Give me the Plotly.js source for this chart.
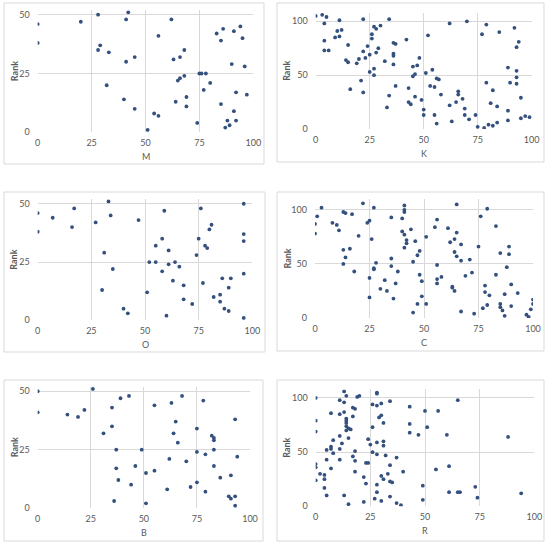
<!DOCTYPE html>
<html>
<head>
<meta charset="utf-8">
<script src="https://cdn.plot.ly/plotly-3.0.1.min.js"></script>
<style>
  html, body { margin: 0; padding: 0; background: #fff; }
  #plot { width: 550px; height: 546px; }
</style>
</head>
<body>
<div id="plot"></div>
<script>
// score (x) and rank (y) for each of the six panels
const mScore = [0, 0, 20, 28, 42, 41, 29, 28, 33, 41, 45, 32, 40, 45, 51, 54, 56, 56, 62, 63, 66, 68, 65, 66, 68, 64, 69, 69, 74, 75, 76, 78, 77, 80, 83, 86, 85, 91, 94, 95, 90, 96, 85, 92, 97, 91, 88, 92, 89, 87];
const mRank  = [46, 38, 47, 50, 51, 48, 37, 35, 34, 30, 32, 20, 14, 10, 1, 8, 7, 41, 48, 31, 32, 35, 22, 23, 24, 13, 15, 11, 4, 25, 25, 25, 18, 21, 42, 44, 39, 43, 45, 40, 29, 28, 12, 17, 16, 9, 5, 5, 3, 2];

const kScore = [0, 3, 5, 4, 4, 4, 6, 9, 10, 11, 11, 12, 15, 14, 15, 16, 19, 20, 21, 22, 22, 22, 23, 24, 25, 25, 26, 26, 27, 28, 30, 29, 28, 27, 27, 32, 34, 36, 37, 36, 36, 36, 37, 34, 33, 42, 43, 43, 44, 46, 45, 46, 45, 47, 48, 49, 50, 50, 51, 52, 53, 54, 55, 55, 56, 56, 57, 58, 62, 62, 63, 65, 66, 66, 68, 69, 69, 71, 70, 74, 75, 77, 79, 79, 78, 80, 81, 82, 82, 84, 84, 85, 89, 90, 89, 89, 92, 93, 94, 93, 93, 93, 95, 95, 97, 99];
const kRank  = [105, 106, 104, 98, 82, 73, 73, 85, 91, 101, 86, 92, 78, 64, 62, 37, 61, 65, 45, 34, 102, 72, 66, 77, 69, 53, 88, 84, 95, 93, 96, 75, 71, 56, 50, 63, 102, 80, 79, 70, 68, 60, 40, 31, 20, 83, 38, 25, 23, 30, 49, 51, 58, 59, 66, 27, 18, 13, 52, 87, 40, 55, 39, 13, 5, 47, 46, 32, 98, 22, 7, 25, 35, 32, 28, 19, 13, 9, 100, 13, 2, 88, 97, 43, 1, 4, 24, 36, 3, 21, 6, 90, 57, 43, 17, 8, 94, 76, 81, 54, 48, 42, 29, 10, 12, 11];

const oScore = [0, 0, 7, 17, 16, 27, 33, 34, 31, 35, 30, 40, 42, 47, 51, 52, 55, 55, 58, 59, 58, 61, 61, 64, 66, 63, 68, 68, 60, 72, 74, 75, 76, 78, 79, 80, 81, 77, 82, 85, 85, 86, 87, 89, 89, 90, 96, 96, 96, 96, 96];
const oRank  = [46, 38, 44, 48, 40, 42, 51, 45, 29, 22, 13, 5, 3, 43, 12, 25, 25, 32, 35, 47, 21, 30, 24, 25, 23, 17, 15, 9, 2, 7, 28, 35, 48, 32, 31, 39, 41, 16, 10, 11, 8, 18, 5, 14, 4, 18, 50, 37, 34, 20, 1];

const cScore = [0, 0, 1, 3, 8, 10, 11, 13, 14, 17, 13, 16, 14, 13, 18, 20, 22, 24, 25, 26, 27, 27, 27, 28, 25, 25, 30, 32, 33, 35, 35, 35, 36, 37, 38, 40, 40, 41, 41, 41, 41, 42, 42, 41, 44, 45, 46, 47, 48, 48, 49, 49, 47, 45, 51, 51, 55, 56, 56, 56, 56, 58, 61, 62, 64, 65, 64, 65, 65, 67, 67, 63, 63, 64, 67, 69, 71, 72, 73, 75, 76, 79, 83, 83, 77, 78, 78, 80, 79, 85, 85, 85, 86, 87, 87, 88, 89, 89, 90, 90, 93, 97, 98, 99, 100, 100];
const cRank  = [87, 78, 94, 102, 88, 86, 81, 98, 97, 96, 63, 64, 56, 50, 43, 76, 106, 88, 90, 73, 102, 46, 45, 51, 37, 19, 27, 35, 25, 93, 55, 48, 18, 32, 43, 92, 80, 77, 104, 100, 98, 72, 69, 65, 82, 52, 71, 58, 62, 40, 34, 20, 13, 5, 75, 13, 84, 91, 49, 36, 32, 38, 83, 70, 73, 79, 61, 57, 105, 68, 53, 29, 28, 25, 6, 39, 54, 42, 4, 66, 94, 101, 85, 40, 9, 30, 24, 21, 12, 60, 13, 10, 7, 2, 22, 47, 66, 59, 31, 11, 23, 3, 1, 8, 17, 13];

const bScore = [0, 0, 14, 19, 22, 26, 35, 39, 43, 35, 31, 37, 37, 38, 36, 46, 44, 49, 51, 51, 55, 55, 63, 68, 65, 64, 66, 62, 70, 61, 72, 75, 75, 75, 78, 79, 79, 82, 83, 83, 83, 83, 86, 91, 93, 94, 90, 91, 93, 93];
const bRank  = [50, 41, 40, 39, 42, 51, 43, 47, 48, 35, 32, 25, 17, 12, 3, 18, 10, 25, 15, 2, 16, 44, 45, 48, 37, 32, 28, 21, 20, 8, 9, 11, 24, 34, 46, 23, 7, 31, 30, 29, 25, 18, 13, 14, 38, 22, 5, 4, 5, 1];

const rScore = [0, 0, 0, 0, 0, 0, 2, 4, 4, 4, 5, 5, 5, 7, 7, 7, 7, 8, 8, 11, 11, 11, 12, 11, 11, 13, 13, 13, 14, 14, 14, 14, 14, 14, 15, 16, 15, 13, 15, 17, 18, 17, 19, 20, 17, 18, 18, 18, 22, 23, 23, 24, 24, 25, 26, 26, 26, 22, 27, 28, 28, 28, 30, 30, 29, 31, 28, 28, 31, 31, 32, 30, 31, 28, 28, 30, 34, 34, 33, 34, 35, 34, 37, 37, 39, 40, 43, 43, 43, 47, 49, 49, 50, 51, 56, 55, 60, 61, 61, 65, 65, 66, 73, 74, 88, 94];
const rRank  = [100, 79, 69, 39, 36, 24, 30, 29, 25, 17, 10, 43, 52, 53, 55, 35, 86, 49, 61, 43, 53, 65, 58, 85, 98, 96, 87, 106, 102, 81, 79, 77, 70, 74, 72, 71, 63, 10, 2, 91, 90, 83, 101, 102, 46, 51, 42, 32, 27, 21, 40, 40, 62, 57, 50, 73, 94, 4, 7, 105, 104, 93, 95, 84, 82, 77, 59, 48, 60, 56, 47, 28, 25, 20, 13, 5, 97, 38, 30, 23, 22, 9, 45, 3, 1, 32, 92, 76, 68, 66, 19, 6, 88, 73, 88, 34, 66, 37, 13, 98, 13, 13, 18, 8, 64, 12];

const panelNames  = ['M', 'K', 'O', 'C', 'B', 'R'];
const panelScores = [mScore, kScore, oScore, cScore, bScore, rScore];
const panelRanks  = [mRank, kRank, oRank, cRank, bRank, rRank];

// layout in pixels: plot area [x0, x1, yTop, yBottom], outer frame, y max
const W = 550, H = 546;
const areas = [
  [37.7, 253.3, 10, 132.3],
  [315.7, 531.7, 12.7, 129],
  [37.7, 252.3, 199.1, 320.3],
  [315, 533, 199, 318],
  [37.7, 250, 386.6, 508],
  [315.7, 534.3, 389.3, 506.3]
];
const frames = [
  [4, 264, 3, 164],
  [277, 544, 3, 162],
  [4, 265, 192, 352],
  [277, 544, 192, 351],
  [4, 263, 380, 541],
  [277, 544, 380, 541]
];
const yMax = [52, 108, 52, 110, 52, 108];

const FONT = 'Lato, "Open Sans", sans-serif';
const GREY = '#595959';
const GRID = '#D9D9D9';

const px = v => v / W;
const py = v => 1 - v / H;

let data = [];
let layout = {
  width: W,
  height: H,
  margin: { l: 0, r: 0, t: 0, b: 0 },
  paper_bgcolor: '#ffffff',
  plot_bgcolor: '#ffffff',
  showlegend: false,
  font: { family: FONT, size: 9, color: GREY },
  shapes: [],
  annotations: []
};

for (let i = 0; i < 6; i++) {
  const n = i === 0 ? '' : String(i + 1);
  const a = areas[i];

  data.push({
    x: panelScores[i],
    y: panelRanks[i],
    xaxis: 'x' + n,
    yaxis: 'y' + n,
    type: 'scatter',
    mode: 'markers',
    marker: { size: 3.8, color: '#34507E' },
    hoverinfo: 'x+y'
  });

  layout['xaxis' + n] = {
    domain: [px(a[0]), px(a[1])],
    anchor: 'y' + n,
    range: [0, 100],
    tickvals: [0, 25, 50, 75, 100],
    showgrid: true,
    gridcolor: GRID,
    zeroline: false,
    showline: false,
    ticks: '',
    ticklabelstandoff: 4,
    tickfont: { family: FONT, size: 9, color: GREY },
    fixedrange: true
  };
  layout['yaxis' + n] = {
    domain: [py(a[3]), py(a[2])],
    anchor: 'x' + n,
    range: [0, yMax[i]],
    tickvals: yMax[i] > 60 ? [0, 50, 100] : [0, 25, 50],
    showgrid: true,
    gridcolor: GRID,
    zeroline: false,
    showline: false,
    ticks: '',
    ticklabelstandoff: 7,
    tickfont: { family: FONT, size: 9, color: GREY },
    fixedrange: true
  };

  // outer chart frame
  const f = frames[i];
  layout.shapes.push({
    type: 'rect', xref: 'paper', yref: 'paper',
    x0: px(f[0]), x1: px(f[1]), y0: py(f[3]), y1: py(f[2]),
    line: { color: GRID, width: 1 }
  });

  // axis titles
  layout.annotations.push({
    text: panelNames[i], xref: 'paper', yref: 'paper',
    x: px((a[0] + a[1]) / 2), y: py(a[3] + 24),
    showarrow: false, xanchor: 'center', yanchor: 'middle',
    font: { family: FONT, size: 9, color: GREY }
  });
  layout.annotations.push({
    text: '<b>Rank</b>', xref: 'paper', yref: 'paper',
    x: px(f[0] + 10), y: py((a[2] + a[3]) / 2),
    textangle: -90, showarrow: false, xanchor: 'center', yanchor: 'middle',
    font: { family: FONT, size: 9, color: GREY }
  });
}

Plotly.newPlot('plot', data, layout, { staticPlot: true });
</script>
</body>
</html>
